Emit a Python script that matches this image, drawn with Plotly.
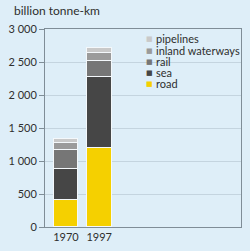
import plotly.graph_objects as go

years = ["1970", "1997"]
road = [410, 1200]
sea = [470, 1070]
rail = [280, 245]
inland_waterways = [110, 125]
pipelines = [60, 75]

series_names = ["road", "sea", "rail", "inland waterways", "pipelines"]
series_values = [road, sea, rail, inland_waterways, pipelines]
series_colors = ["#f5d000", "#464646", "#767676", "#9b9b9b", "#c9c9c9"]

ytick_vals = [0, 500, 1000, 1500, 2000, 2500, 3000]
ytick_text = ["0", "500", "1 000", "1 500", "2 000", "2 500", "3 000"]

W, H = 250, 251
L, R, T, B = 36, 8, 29, 19
pw, ph = W - L - R, H - T - B

def px2x(px):
    return (px - L) / pw

def py2y(py):
    return (H - B - py) / ph

font = "Lato, 'Open Sans', sans-serif"
txt = "#2e2e2e"

fig = go.Figure()
for name, vals, col in zip(series_names, series_values, series_colors):
    fig.add_trace(go.Bar(x=years, y=vals, name=name, marker_color=col,
                         marker_line_color="#f4f8fb", marker_line_width=1,
                         width=0.74, showlegend=False))

annotations = [dict(text="billion tonne-km", x=px2x(2), y=py2y(10), xref="paper", yref="paper",
                    xanchor="left", yanchor="middle", showarrow=False, borderpad=0,
                    font=dict(size=12, color=txt, family=font))]
leg_y = [85, 73.5, 62, 50.7, 39.2]
for name, col, ly in zip(series_names, series_colors, leg_y):
    annotations.append(dict(text="■", x=px2x(145.5), y=py2y(ly + 0.5), xref="paper", yref="paper",
                            xanchor="center", yanchor="middle", showarrow=False, borderpad=0,
                            font=dict(size=7, color=col, family="DejaVu Sans")))
    annotations.append(dict(text=name, x=px2x(152), y=py2y(ly), xref="paper", yref="paper",
                            xanchor="left", yanchor="middle", showarrow=False, borderpad=0,
                            font=dict(size=11, color=txt, family=font)))

fig.update_layout(
    width=W, height=H,
    margin=dict(l=L, r=R, t=T, b=B),
    barmode="stack",
    bargap=0,
    paper_bgcolor="#deeef8",
    plot_bgcolor="#deeef8",
    annotations=annotations,
    xaxis=dict(type="category", range=[-0.63, 5.26], showgrid=False,
               showline=True, linecolor="#7f8d97", linewidth=1, mirror=True,
               ticks="", tickfont=dict(size=11, color=txt, family=font), fixedrange=True),
    yaxis=dict(range=[0, 3000], tickvals=ytick_vals, ticktext=ytick_text,
               showgrid=True, gridcolor="#c4d4df", gridwidth=1,
               showline=True, linecolor="#7f8d97", linewidth=1, mirror=True,
               ticks="outside", ticklen=5, tickcolor="#7f8d97",
               tickfont=dict(size=11, color=txt, family=font), zeroline=False),
)

fig.write_html("out.html")
